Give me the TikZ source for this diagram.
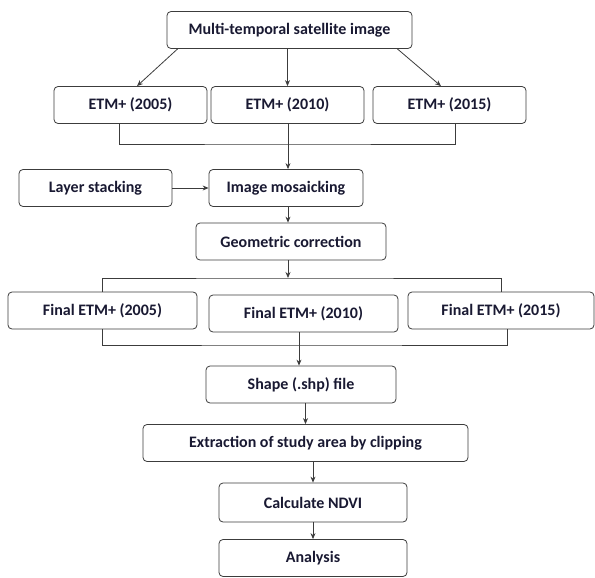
\documentclass[tikz,border=0pt]{standalone}
\usepackage{fontspec}
\setmainfont{Carlito}
\usepackage{tikz}
\usetikzlibrary{positioning,calc}
\usetikzlibrary{arrows.meta}
\definecolor{InkNavy}{RGB}{25,25,50}
\definecolor{LineGray}{RGB}{60,60,60}
\tikzset{
  box/.style={draw=LineGray,fill=white,rounded corners=4pt,line width=0.8pt,
    minimum height=37pt,inner sep=2pt,text=InkNavy,font=\fontsize{16}{18}\selectfont\bfseries},
  link/.style={draw=LineGray,line width=0.8pt},
  arr/.style={link,-{Stealth[length=6pt,width=5pt]}},
}

\begin{document}
\begin{tikzpicture}[x=1pt,y=-1pt]
\useasboundingbox (0,0) rectangle (595,578);
\coordinate (sp) at (288,0);
\node[box,minimum width=245pt] (src) at (289.5,30) {Multi-temporal satellite image};
\foreach \yr/\x in {2005/130.5,2010/287.5,2015/449.5}
  \node[box,minimum width=153pt] (e\yr) at (\x,105) {ETM+ (\yr)};
\node[box,minimum width=153pt] (lay) at (95.5,188) {Layer stacking};
\node[box,minimum width=154pt] (mos) at (286,188) {Image mosaicking};
\node[box,minimum width=190pt] (geo) at (291,241.5) {Geometric correction};
\foreach \yr/\x/\y/\w in {2005/102.5/310.5/189,2010/303.5/313.5/189,2015/501/310.5/186}
  \node[box,minimum width=\w pt] (f\yr) at (\x,\y) {Final ETM+ (\yr)};
\node[box,minimum width=190pt] (shp) at (301,384.5) {Shape (.shp) file};
\node[box,minimum width=325pt] (ext) at (305.5,443) {Extraction of study area by clipping};
\node[box,minimum width=188pt,minimum height=39pt] (ndvi) at (313,502.5) {Calculate NDVI};
\node[box,minimum width=188pt] (ana) at (313,558) {Analysis};
% split into the three years
\draw[arr] ([xshift=11pt]src.south west) -- ([xshift=6.5pt]e2005.north);
\draw[arr] (e2010.north |- src.south) -- (e2010.north);
\draw[arr] ([xshift=-15pt]src.south east) -- ([xshift=-8.5pt]e2015.north);
\coordinate (j1) at (288,144);
\draw[link] ([xshift=-11.5pt]e2005.south) |- (j1) -| ([xshift=5.5pt]e2015.south);
\draw[arr] (e2010.south -| sp) -- (mos.north -| sp);
\draw[arr] (lay) -- (mos);
\draw[arr] (mos.south -| sp) -- (geo.north -| sp);
% back out to the final images
\coordinate (j2) at (288,278);
\draw[arr] (geo.south -| sp) -- (j2);
\draw[link] (f2005.north) |- (j2) -| (f2015.north);
\coordinate (j3) at (299,345);
\draw[link] (f2005.south) |- (j3) -| ([xshift=6pt]f2015.south);
\draw[arr] (f2010.south -| j3) -- (shp.north -| j3);
\draw[arr] (shp.south -| ext.north) -- (ext.north);
\draw[arr] (ext.south -| ndvi.north) -- (ndvi.north);
\draw[arr] (ndvi) -- (ana);
\end{tikzpicture}
\end{document}
